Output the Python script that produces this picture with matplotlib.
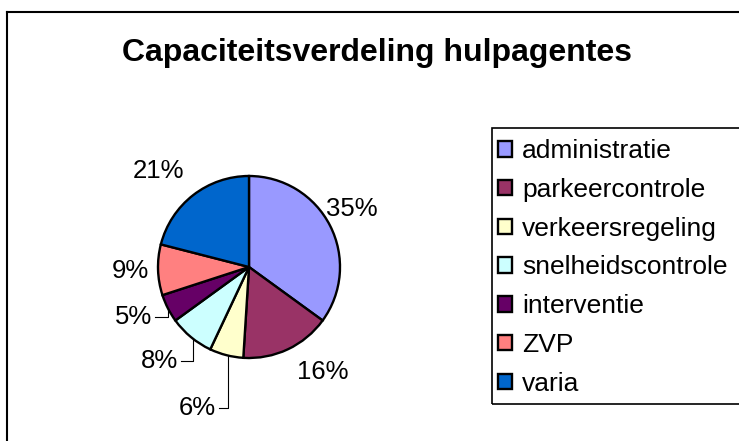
import numpy as np
import matplotlib
matplotlib.use("Agg")
import matplotlib.pyplot as plt
from matplotlib.lines import Line2D
from matplotlib.patches import Rectangle

plt.rcParams['font.family'] = ['Liberation Sans', 'DejaVu Sans']

# data
title = "Capaciteitsverdeling hulpagentes"
categories = ["administratie", "parkeercontrole", "verkeersregeling",
              "snelheidscontrole", "interventie", "ZVP", "varia"]
percentages = [35, 16, 6, 8, 5, 9, 21]
colors = ["#9999FF", "#993366", "#FFFFCC", "#CCFFFF", "#660066", "#FF8080", "#0066CC"]

# label layout: distance from centre (in radii), angle shift from slice middle, leader line
lab_r = [1.30, 1.41, 1.585, 1.275, 1.17, 1.30, 1.45]
lab_shift = [2.5, 10, 2.4, 3.7, 1.0, 0, 5.5]
leader = [False, False, True, True, True, False, False]

W, H = 739, 441
fig = plt.figure(figsize=(W / 100, H / 100), dpi=100)

# outer chart frame (right/bottom fall outside the picture)
fig.add_artist(Line2D([7 / W, 7 / W], [0, 1 - 12 / H], transform=fig.transFigure, color='black', lw=1.5))
fig.add_artist(Line2D([7 / W, 1], [1 - 12 / H, 1 - 12 / H], transform=fig.transFigure, color='black', lw=1.5))

fig.text(377 / W, 1 - 61 / H, title, ha='center', va='baseline', fontsize=23, fontweight='bold')

# pie axes: centre (249, 267) px, radius 91 px
cx, cy, R, half = 249, 267, 91, 150
ax = fig.add_axes([(cx - half) / W, (H - cy - half) / H, 2 * half / W, 2 * half / H])
lim = half / R
wedges, _ = ax.pie(percentages, colors=colors, startangle=90, counterclock=False,
                   radius=1, wedgeprops=dict(edgecolor='black', linewidth=1.7))
ax.set_xlim(-lim, lim)
ax.set_ylim(-lim, lim)
ax.set_aspect('equal')
ax.axis('off')

for w, p, r, sh, ld in zip(wedges, percentages, lab_r, lab_shift, leader):
    mid = np.deg2rad((w.theta1 + w.theta2) / 2)
    ang = mid + np.deg2rad(sh)
    x, y = r * np.cos(ang), r * np.sin(ang)
    if ld:
        st = mid + np.deg2rad(sh / 2)
        sx, sy = np.cos(st), np.sin(st)
        ax.plot([sx, sx, x], [sy, y, y], color='black', lw=0.8, clip_on=False)
        ax.text(x - 0.03, y, f"{p}%", ha='right', va='center', fontsize=18.5)
    else:
        ax.text(x, y, f"{p}%", ha='center', va='center', fontsize=18.5)

# legend
fig.add_artist(Rectangle((492 / W, 1 - 404 / H), 300 / W, 276 / H, transform=fig.transFigure,
                         facecolor='none', edgecolor='black', lw=1.2))
fig.legend(wedges, categories, loc='upper left', bbox_to_anchor=(487 / W, 1 - 128 / H),
           frameon=False, fontsize=19, handlelength=0.53, handleheight=0.53,
           handletextpad=0.38, labelspacing=0.56, borderpad=0.42, borderaxespad=0)

fig.savefig("out.png", dpi=100)
